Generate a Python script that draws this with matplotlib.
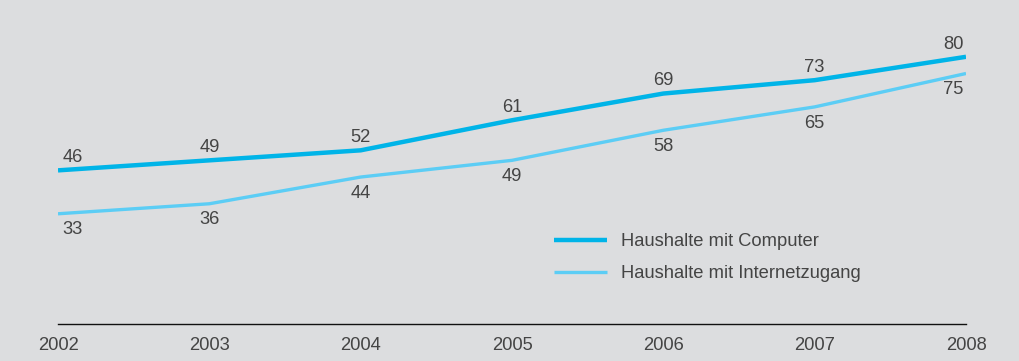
import matplotlib
matplotlib.use("Agg")
import matplotlib.pyplot as plt

years = [2002, 2003, 2004, 2005, 2006, 2007, 2008]
computer = [46, 49, 52, 61, 69, 73, 80]
internet = [33, 36, 44, 49, 58, 65, 75]
series_names = ["Haushalte mit Computer", "Haushalte mit Internetzugang"]

bg = "#dcdddf"
c_comp = "#00b4e8"
c_net = "#5ccdf5"
txt = "#444444"
fs = 13.2

plt.rcParams["font.family"] = ["Liberation Sans", "DejaVu Sans"]

fig = plt.figure(figsize=(10.2, 3.61), dpi=100, facecolor=bg)
ax = fig.add_axes([58 / 1020, 37 / 361, 908 / 1020, 300 / 361])
ax.set_facecolor(bg)

ax.plot(years, computer, color=c_comp, lw=3.2, solid_capstyle="butt", label=series_names[0])
ax.plot(years, internet, color=c_net, lw=2.4, solid_capstyle="butt", label=series_names[1])

ax.set_xlim(years[0], years[-1])
ax.set_ylim(0, 300 / 3.34)

for i, (yr, vc, vi) in enumerate(zip(years, computer, internet)):
    if i == 0:
        ha, dx = "left", 3
    elif i == len(years) - 1:
        ha, dx = "right", -2
    else:
        ha, dx = "center", 0
    ax.annotate(str(vc), (yr, vc), xytext=(dx, 3), textcoords="offset points",
                ha=ha, va="bottom", fontsize=fs, color=txt)
    ax.annotate(str(vi), (yr, vi), xytext=(dx, -5.5), textcoords="offset points",
                ha=ha, va="top", fontsize=fs, color=txt)

for s in ["top", "right", "left"]:
    ax.spines[s].set_visible(False)
ax.spines["bottom"].set_color("#111111")
ax.spines["bottom"].set_linewidth(1.0)
ax.set_yticks([])
ax.set_xticks(years)
ax.set_xticklabels([str(y) for y in years], fontsize=fs, color=txt)
ax.tick_params(axis="x", length=0, pad=9)

leg = ax.legend(loc="upper left", bbox_to_anchor=(489 / 908, 1 - (226 - 24) / 300),
                frameon=False, fontsize=fs, handlelength=2.85, handletextpad=0.78,
                labelspacing=0.8, borderaxespad=0)
for t in leg.get_texts():
    t.set_color(txt)

fig.savefig("out.png", dpi=100, facecolor=bg)
